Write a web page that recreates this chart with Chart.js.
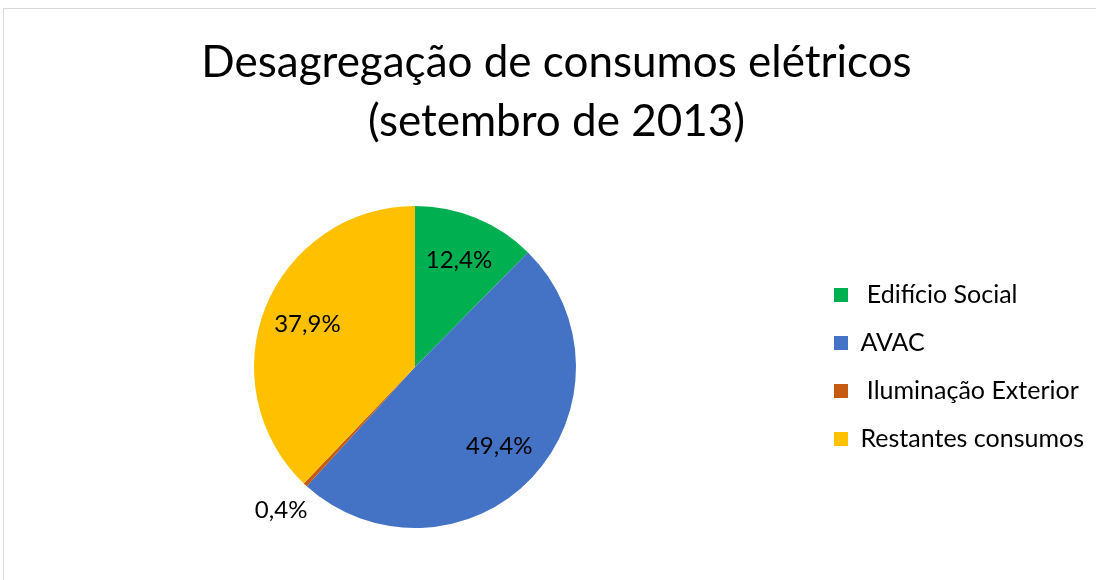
<!DOCTYPE html>
<html>
<head>
<meta charset="utf-8">
<script src="https://cdn.jsdelivr.net/npm/chart.js@4"></script>
<style>
  html, body { margin: 0; padding: 0; background: #fff; overflow: hidden; }
  #frame { position: absolute; left: 3px; top: 8px; width: 1100px; height: 580px; border: 1px solid #d9d9d9; }
  #box { position: relative; width: 1092px; height: 571px; }
</style>
</head>
<body>
<div id="frame"><div id="box"><canvas id="pie"></canvas></div></div>
<script>
const categories = [' Edifício Social', 'AVAC', ' Iluminação Exterior', 'Restantes consumos'];
const shares = [12.4, 49.4, 0.4, 37.9];
const sliceColors = ['#00B050', '#4472C4', '#C55A11', '#FFC000'];
const titleLines = ['Desagregação de consumos elétricos', '(setembro de 2013)'];

const FONT = 'Lato, Calibri, Carlito, sans-serif';

// percentage labels inside the slices, small ones outside
const pctLabels = {
  id: 'pctLabels',
  afterDatasetsDraw(chart) {
    const ctx = chart.ctx;
    const meta = chart.getDatasetMeta(0);
    ctx.save();
    ctx.font = '24px ' + FONT;
    ctx.fillStyle = '#000';
    ctx.textAlign = 'center';
    ctx.textBaseline = 'middle';
    meta.data.forEach((arc, i) => {
      const p = arc.getProps(['x', 'y', 'startAngle', 'endAngle', 'outerRadius'], true);
      const mid = (p.startAngle + p.endAngle) / 2;
      const v = shares[i];
      const r = v < 2 ? p.outerRadius * 1.22 : p.outerRadius * 0.72;
      const txt = v.toFixed(1).replace('.', ',') + '%';
      ctx.fillText(txt, p.x + Math.cos(mid) * r, p.y + Math.sin(mid) * r);
    });
    ctx.restore();
  }
};

new Chart(document.getElementById('pie'), {
  type: 'pie',
  data: {
    labels: categories,
    datasets: [{
      data: shares,
      backgroundColor: sliceColors,
      borderWidth: 0
    }]
  },
  options: {
    responsive: true,
    maintainAspectRatio: false,
    animation: false,
    layout: { padding: { left: 15, right: 2, bottom: 52 } },
    plugins: {
      tooltip: { enabled: false },
      title: {
        display: true,
        text: titleLines,
        color: '#000',
        font: { family: FONT, size: 44, weight: 'normal', lineHeight: 1.33 },
        padding: { top: 25, bottom: 55 }
      },
      legend: {
        position: 'right',
        fullSize: false,
        labels: {
          color: '#000',
          boxWidth: 14,
          boxHeight: 14,
          padding: 23,
          font: { family: FONT, size: 25 }
        }
      }
    }
  },
  plugins: [pctLabels]
});
</script>
</body>
</html>
